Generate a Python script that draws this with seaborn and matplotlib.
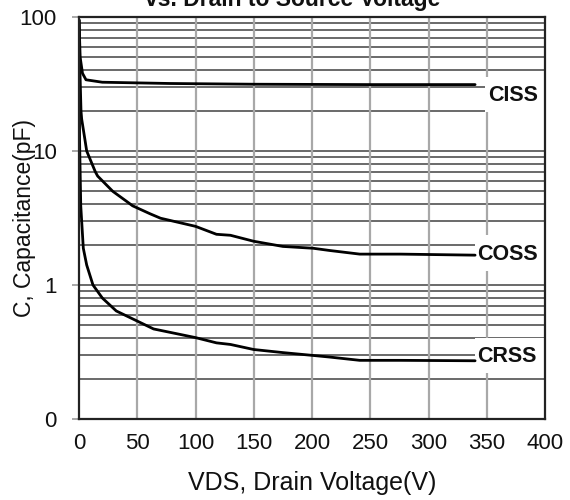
import numpy as np
import pandas as pd
import matplotlib
matplotlib.use("Agg")
import matplotlib.pyplot as plt
from matplotlib.ticker import FixedLocator, FixedFormatter, NullFormatter
from matplotlib.patches import Rectangle
import seaborn as sns

# ---- data ----
ciss_v = [0, 1, 3, 6, 20, 78, 150, 250, 340]
ciss_c = [95, 50, 38, 34, 32.6, 31.9, 31.5, 31.3, 31.3]

coss_v = [0, 0.8, 1.7, 2.3, 5, 6.6, 14, 16, 29, 41, 46, 61, 70, 100, 118, 130, 150, 175, 201, 215, 241, 276, 340]
coss_c = [95, 40, 20, 17.3, 12.3, 10, 7.0, 6.5, 5.0, 4.2, 3.9, 3.4, 3.15, 2.74, 2.39, 2.35, 2.12, 1.94, 1.88, 1.81, 1.70, 1.70, 1.67]

crss_v = [0, 0.5, 1.5, 3.7, 6.6, 12, 20, 32, 64, 100, 118, 130, 150, 175, 201, 215, 241, 276, 340]
crss_c = [95, 12, 3.9, 1.88, 1.41, 1.0, 0.80, 0.64, 0.47, 0.405, 0.37, 0.36, 0.33, 0.313, 0.298, 0.29, 0.274, 0.274, 0.272]

series_names = ["CISS", "COSS", "CRSS"]
label_x = [351, 342, 342]
label_y = [26.4, 1.73, 0.298]

x_ticks = [0, 50, 100, 150, 200, 250, 300, 350, 400]
y_ticks = [0.1, 1, 10, 100]
y_ticklabels = ["0", "1", "10", "100"]

title = "vs. Drain to Source Voltage"
xlabel = "VDS, Drain Voltage(V)"
ylabel = "C, Capacitance(pF)"

df = pd.concat([
    pd.DataFrame({"V": ciss_v, "C": ciss_c, "series": "CISS"}),
    pd.DataFrame({"V": coss_v, "C": coss_c, "series": "COSS"}),
    pd.DataFrame({"V": crss_v, "C": crss_c, "series": "CRSS"}),
])

sns.set_style("white")
plt.rcParams["font.family"] = ["Liberation Sans", "DejaVu Sans"]

fig = plt.figure(figsize=(5.7, 5.0), dpi=100)
ax = fig.add_axes([79 / 570, 1 - 419 / 500, (545 - 79) / 570, (419 - 17) / 500])

ax.set_yscale("log")
ax.set_xlim(0, 400)
ax.set_ylim(0.1, 100)

# grid
minor = [m * 10.0 ** k for k in (-1, 0, 1) for m in range(2, 10)]
for yv in minor + [1, 10]:
    ax.axhline(yv, color="#505050", lw=1.2, zorder=1)
for xv in x_ticks[1:-1]:
    ax.axvline(xv, color="#a8a8a8", lw=1.6, zorder=1)

sns.lineplot(data=df, x="V", y="C", hue="series",
             palette={"CISS": "black", "COSS": "black", "CRSS": "black"},
             legend=False, lw=2.0, ax=ax, zorder=3, estimator=None, sort=False)

# labels with white boxes
for name, lx, ly in zip(series_names, label_x, label_y):
    ax.add_patch(Rectangle((lx - 2.5, ly / 1.36), 400 - (lx - 2.5), ly * 1.36 - ly / 1.36,
                           facecolor="white", edgecolor="none", zorder=2))
    ax.annotate(name, (lx, ly), xytext=(0, -1), textcoords="offset points",
                ha="left", va="center", fontsize=15.5,
                fontweight="bold", color="#111111", zorder=4)

ax.xaxis.set_major_locator(FixedLocator(x_ticks))
ax.yaxis.set_major_locator(FixedLocator(y_ticks))
ax.yaxis.set_major_formatter(FixedFormatter(y_ticklabels))
ax.yaxis.set_minor_formatter(NullFormatter())
ax.tick_params(axis="y", which="major", length=5, width=1.2, color="#999999",
               pad=11, labelsize=16, labelcolor="#111111", left=True)
ax.tick_params(axis="y", which="minor", length=0)
ax.tick_params(axis="x", length=0, pad=10, labelsize=16, labelcolor="#111111")

ax.set_xlabel(xlabel, fontsize=18, color="#111111", labelpad=12)
ax.set_ylabel(ylabel, fontsize=16.5, color="#111111")
ax.yaxis.set_label_coords(-0.092, 0.5)

for side in ["left", "right", "top", "bottom"]:
    ax.spines[side].set_visible(True)
    ax.spines[side].set_color("#222222")
    ax.spines[side].set_linewidth(1.6)
    ax.spines[side].set_zorder(5)

fig.text(293 / 570, 1 - 6 / 500, title, ha="center", va="baseline",
         fontsize=16.5, fontweight="bold", color="#111111")

fig.savefig("out.png", dpi=100)
